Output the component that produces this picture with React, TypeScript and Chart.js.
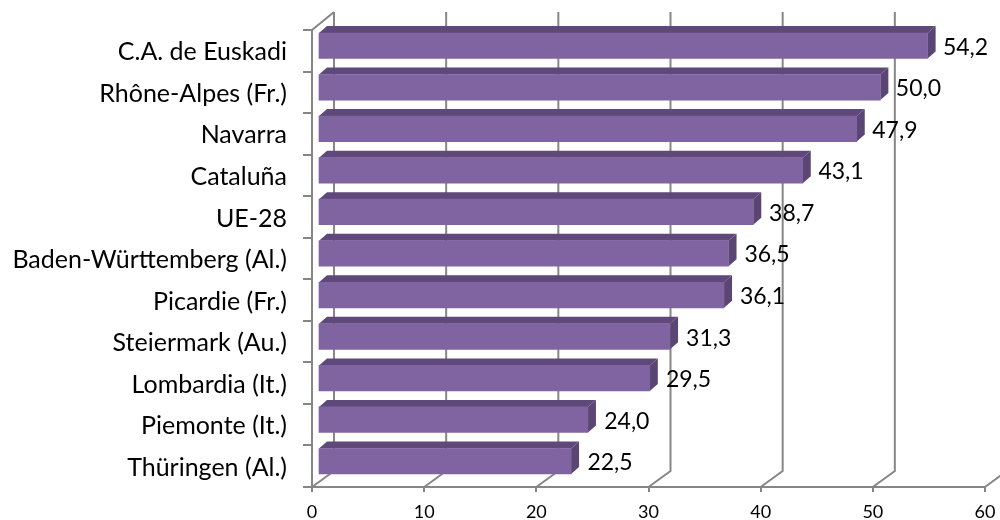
import React, { useEffect, useRef } from "react";
import { Chart, registerables } from "chart.js";

Chart.register(...registerables);

const categories = [
  "C.A. de Euskadi",
  "Rhône-Alpes (Fr.)",
  "Navarra",
  "Cataluña",
  "UE-28",
  "Baden-Württemberg (Al.)",
  "Picardie (Fr.)",
  "Steiermark (Au.)",
  "Lombardia (It.)",
  "Piemonte (It.)",
  "Thüringen (Al.)",
];
const values = [54.2, 50.0, 47.9, 43.1, 38.7, 36.5, 36.1, 31.3, 29.5, 24.0, 22.5];

const FONT = "Lato, Carlito, Calibri, sans-serif";
const GRID = "#868686";
const FRONT = "#8064A2";
const TOP = "#5F497A";
const SIDE = "#5A4573";

const wall3d = {
  id: "wall3d",
  beforeDatasetsDraw(chart: any) {
    const { ctx, scales, chartArea } = chart;
    const x = scales.x;
    ctx.save();
    ctx.strokeStyle = GRID;
    ctx.lineWidth = 2;
    for (const t of x.ticks) {
      const px = x.getPixelForValue(t.value);
      ctx.beginPath();
      ctx.moveTo(px, chartArea.bottom);
      ctx.lineTo(px + 22, chartArea.bottom - 16);
      ctx.lineTo(px + 22, chartArea.top - 18);
      if (t.value === 0) {
        ctx.moveTo(px, chartArea.top);
        ctx.lineTo(px + 22, chartArea.top - 18);
      }
      ctx.stroke();
    }
    ctx.restore();

    // the bars stand a little inside the 3D box, on a very slightly wider scale
    ctx.save();
    ctx.translate(chartArea.left + 6, -5);
    ctx.scale(1.0027, 1);
    ctx.translate(-chartArea.left, 0);
    const meta = chart.getDatasetMeta(0);
    for (const bar of meta.data) {
      const p = bar.getProps(["x", "y", "base", "height"], true);
      const t = p.y - p.height / 2;
      const b = p.y + p.height / 2;
      ctx.fillStyle = TOP;
      ctx.beginPath();
      ctx.moveTo(p.base, t);
      ctx.lineTo(p.base + 8, t - 7);
      ctx.lineTo(p.x + 8, t - 7);
      ctx.lineTo(p.x, t);
      ctx.closePath();
      ctx.fill();
      ctx.fillStyle = SIDE;
      ctx.beginPath();
      ctx.moveTo(p.x, t);
      ctx.lineTo(p.x + 8, t - 7);
      ctx.lineTo(p.x + 8, b - 7);
      ctx.lineTo(p.x, b);
      ctx.closePath();
      ctx.fill();
    }
  },
  afterDatasetsDraw(chart: any) {
    const { ctx } = chart;
    ctx.restore();
    const meta = chart.getDatasetMeta(0);
    ctx.save();
    ctx.fillStyle = "#000000";
    ctx.font = `23px ${FONT}`;
    ctx.textAlign = "left";
    ctx.textBaseline = "middle";
    meta.data.forEach((bar: any, i: number) => {
      const p = bar.getProps(["x", "y"], true);
      ctx.fillText(values[i].toFixed(1).replace(".", ","), p.x + 23, p.y - 3.5);
    });
    ctx.restore();
  },
};

export default function App() {
  const ref = useRef<HTMLCanvasElement>(null);
  useEffect(() => {
    const chart = new Chart(ref.current!, {
      type: "bar",
      data: {
        labels: categories,
        datasets: [
          {
            data: values,
            backgroundColor: FRONT,
            barThickness: 25.5,
          },
        ],
      },
      options: {
        indexAxis: "y",
        responsive: false,
        animation: false,
        layout: { padding: { top: 30, right: 15, left: 0, bottom: 0 } },
        plugins: { legend: { display: false }, tooltip: { enabled: false } },
        scales: {
          x: {
            min: 0,
            max: 60,
            afterFit: (s: any) => {
              s.height = 33;
              s.paddingLeft = 0;
              s.paddingRight = 0;
            },
            ticks: {
              stepSize: 10,
              maxRotation: 0,
              padding: 9,
              color: "#000000",
              font: { family: FONT, size: 18 },
            },
            grid: { drawOnChartArea: false, color: GRID, lineWidth: 2, tickLength: 5 },
            border: { color: GRID, width: 2 },
          },
          y: {
            afterFit: (s: any) => {
              s.width = 312;
              s.paddingTop = 0;
              s.paddingBottom = 0;
            },
            ticks: {
              padding: 16,
              labelOffset: 1.5,
              color: "#000000",
              font: { family: FONT, size: 25 },
            },
            grid: { drawOnChartArea: false, color: GRID, lineWidth: 2, tickLength: 9 },
            border: { color: GRID, width: 2 },
          },
        },
      },
      plugins: [wall3d],
    } as any);
    return () => chart.destroy();
  }, []);
  return (
    <div style={{ position: "absolute", left: 0, top: 0, width: 1000, height: 520, background: "#fff" }}>
      <canvas ref={ref} width={1000} height={520} style={{ display: "block" }} />
    </div>
  );
}
